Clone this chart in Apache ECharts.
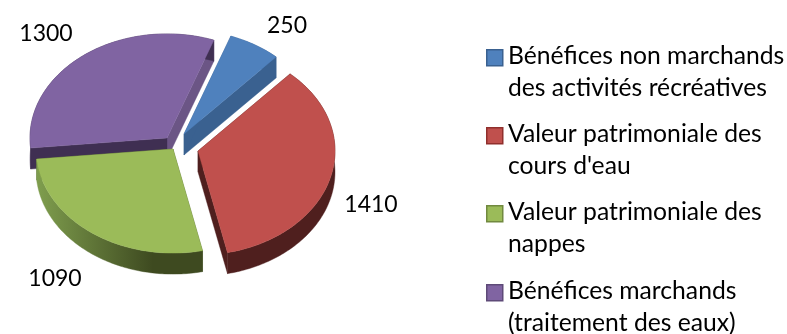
<!DOCTYPE html>
<html>
<head>
<meta charset="utf-8">
<script src="https://cdn.jsdelivr.net/npm/echarts@6/dist/echarts.min.js"></script>
<style>html,body{margin:0;padding:0;background:#fff}#c{width:787px;height:334px}</style>
</head>
<body>
<div id="c"></div>
<script>
const categories = [
  "Bénéfices non marchands\ndes activités récréatives",
  "Valeur patrimoniale des\ncours d'eau",
  "Valeur patrimoniale des\nnappes",
  "Bénéfices marchands\n(traitement des eaux)"
];
const values = [250, 1410, 1090, 1300];

// Styling and layout, kept apart from the data
const topColors = ["#4f81bd", "#c0504d", "#9bbb59", "#8064a2"];
const edgeColors = ["#3a6190", "#902f2c", "#71893f", "#5e4a78"];
const cutColors = ["#3a6190", "#4f1f1e", "#4a5a28", "#3f2f52"];
const cutColorsEnd = ["#3a6190", "#4f1f1e", "#4a5a28", "#6b5585"];
const wallColors = [
  ["#3a6190", "#3a6190"],
  ["#4f1f1e", "#4f1f1e"],
  ["#7f9e4e", "#3e4a20"],
  ["#3f2f52", "#3f2f52"]
];
const sliceApex = [[184, 134], [198, 151], [173, 149], [167, 138]];
const labelPos = [[287, 26], [371, 205], [55, 279], [46, 34]];
const drawOrder = [3, 0, 1, 2];
const FONT = "Lato";
const R = 137, K = 0.76, DEPTH = 21, START = 20;

const total = values.reduce((a, b) => a + b, 0);
const spans = [];
let acc = START;
values.forEach(v => { const s = v / total * 360; spans.push([acc, acc + s]); acc += s; });

function pt(ox, oy, deg) {
  const a = deg * Math.PI / 180;
  return [ox + R * Math.sin(a), oy - K * R * Math.cos(a)];
}

function renderSlice(params, api) {
  const i = api.value(1);
  const [a0, a1] = spans[i];
  const [ox, oy] = sliceApex[i];
  const arc = [];
  for (let d = a0; d < a1; d += 1) arc.push(pt(ox, oy, d));
  arc.push(pt(ox, oy, a1));
  const apex = [ox, oy];
  const down = p => [p[0], p[1] + DEPTH];
  const first = arc[0], last = arc[arc.length - 1];
  const wallGrad = new echarts.graphic.LinearGradient(0, 0, 1, 0, [
    { offset: 0, color: wallColors[i][0] },
    { offset: 0.7, color: wallColors[i][1] },
    { offset: 1, color: wallColors[i][1] }
  ]);
  const poly = (points, fill) => ({
    type: "polygon",
    shape: { points },
    style: { fill, stroke: fill, lineWidth: 0.4 }
  });
  const lp = labelPos[i];
  return {
    type: "group",
    children: [
      poly([apex, last, down(last), down(apex)], cutColorsEnd[i]),
      poly([apex, first, down(first), down(apex)], cutColors[i]),
      poly(arc.concat(arc.map(down).reverse()), wallGrad),
      poly([apex].concat(arc), topColors[i]),
      {
        type: "text",
        z2: 10,
        style: {
          text: String(api.value(0)), x: lp[0], y: lp[1],
          fill: "#000", font: "23px " + FONT,
          textAlign: "center", textVerticalAlign: "middle"
        }
      }
    ]
  };
}

const legendY = [57, 135, 213, 292];
const legendGraphics = [];
categories.forEach((name, i) => {
  legendGraphics.push({
    type: "rect", left: 486, top: legendY[i] - 8,
    shape: { width: 16, height: 16 },
    style: { fill: topColors[i], stroke: edgeColors[i], lineWidth: 1.5 }
  });
  name.split("\n").forEach((line, j) => {
    legendGraphics.push({
      type: "text", left: 508, top: legendY[i] + j * 32 - 13,
      style: { text: line, fill: "#000", font: "24.7px " + FONT }
    });
  });
});

const chart = echarts.init(document.getElementById("c"), null, { renderer: "canvas" });
chart.setOption({
  animation: false,
  backgroundColor: "#fff",
  graphic: legendGraphics,
  series: [{
    type: "custom",
    coordinateSystem: "none",
    renderItem: renderSlice,
    silent: true,
    data: drawOrder.map(i => [values[i], i])
  }]
});
</script>
</body>
</html>
